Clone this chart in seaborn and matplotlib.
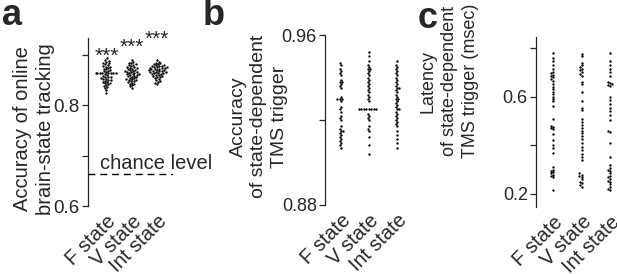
import numpy as np
import pandas as pd
import matplotlib
matplotlib.use("Agg")
import matplotlib.pyplot as plt
import matplotlib.transforms as mtransforms
import seaborn as sns

states = ["F state", "V state", "Int state"]

# panel a: accuracy of online brain-state tracking
track_F = [0.894, 0.891, 0.889, 0.887, 0.885, 0.884, 0.882, 0.880, 0.879, 0.877,
           0.876, 0.875, 0.873, 0.872, 0.870, 0.869, 0.868, 0.866, 0.865, 0.864,
           0.864, 0.864, 0.864, 0.864, 0.864, 0.864, 0.862, 0.860, 0.859, 0.857,
           0.857, 0.856, 0.854, 0.853, 0.852, 0.850, 0.850, 0.849, 0.847, 0.846,
           0.845, 0.844, 0.842, 0.840, 0.838, 0.836, 0.834, 0.830, 0.824]
track_V = [0.891, 0.887, 0.885, 0.884, 0.882, 0.881, 0.880, 0.878, 0.877, 0.876,
           0.875, 0.874, 0.873, 0.872, 0.871, 0.870, 0.869, 0.868, 0.867, 0.866,
           0.866, 0.865, 0.864, 0.863, 0.862, 0.862, 0.861, 0.860, 0.859, 0.858,
           0.857, 0.856, 0.855, 0.854, 0.853, 0.852, 0.851, 0.850, 0.849, 0.848,
           0.846, 0.845, 0.843, 0.842, 0.840, 0.838, 0.835]
track_Int = [0.890, 0.887, 0.885, 0.884, 0.883, 0.882, 0.881, 0.880, 0.879, 0.879,
             0.878, 0.877, 0.876, 0.876, 0.875, 0.874, 0.874, 0.873, 0.872, 0.872,
             0.871, 0.870, 0.870, 0.869, 0.868, 0.868, 0.867, 0.866, 0.866, 0.865,
             0.864, 0.864, 0.863, 0.862, 0.861, 0.860, 0.859, 0.858, 0.857, 0.856,
             0.855, 0.853, 0.851, 0.849, 0.847, 0.845, 0.842]

# panel b: accuracy of state-dependent TMS trigger
trig_F = [0.947, 0.946, 0.944, 0.943, 0.942, 0.941, 0.939, 0.938, 0.938, 0.937,
          0.936, 0.935, 0.931, 0.930, 0.930, 0.930, 0.929, 0.926, 0.925, 0.924,
          0.922, 0.921, 0.920, 0.917, 0.916, 0.915, 0.915, 0.914, 0.913, 0.912,
          0.911, 0.910, 0.909, 0.908, 0.907]
trig_V = [0.952, 0.950, 0.948, 0.946, 0.945, 0.944, 0.944, 0.943, 0.942, 0.941,
          0.940, 0.939, 0.938, 0.937, 0.936, 0.935, 0.934, 0.933, 0.932, 0.931,
          0.930, 0.929, 0.925, 0.925, 0.925, 0.925, 0.925, 0.925, 0.925, 0.925,
          0.923, 0.922, 0.921, 0.920, 0.917, 0.916, 0.915, 0.912, 0.908, 0.904]
trig_Int = [0.948, 0.946, 0.945, 0.944, 0.943, 0.942, 0.941, 0.940, 0.939, 0.938,
            0.937, 0.936, 0.935, 0.935, 0.934, 0.933, 0.932, 0.931, 0.930, 0.930,
            0.929, 0.928, 0.927, 0.926, 0.925, 0.925, 0.924, 0.923, 0.922, 0.921,
            0.920, 0.919, 0.918, 0.917, 0.915, 0.913, 0.911, 0.909, 0.907]

# panel c: latency of state-dependent TMS trigger (msec)
lat_F = [0.778, 0.760, 0.745, 0.730, 0.712, 0.700, 0.695, 0.690, 0.685, 0.680,
         0.672, 0.665, 0.650, 0.640, 0.630, 0.620, 0.610, 0.600, 0.590, 0.580,
         0.560, 0.510, 0.480, 0.475, 0.470, 0.465, 0.445, 0.420, 0.400, 0.390,
         0.370, 0.310, 0.300, 0.295, 0.290, 0.285, 0.280, 0.275, 0.270, 0.217]
lat_V = [0.775, 0.765, 0.740, 0.730, 0.722, 0.715, 0.708, 0.700, 0.692, 0.685,
         0.660, 0.650, 0.620, 0.580, 0.555, 0.545, 0.510, 0.495, 0.485, 0.470,
         0.460, 0.450, 0.440, 0.425, 0.410, 0.395, 0.380, 0.365, 0.350, 0.340,
         0.285, 0.280, 0.275, 0.270, 0.260, 0.250, 0.245, 0.238, 0.230]
lat_Int = [0.778, 0.745, 0.730, 0.715, 0.700, 0.685, 0.660, 0.655, 0.650, 0.648,
           0.645, 0.600, 0.585, 0.570, 0.555, 0.540, 0.525, 0.505, 0.460, 0.455,
           0.410, 0.350, 0.320, 0.305, 0.300, 0.295, 0.285, 0.275, 0.268, 0.262,
           0.255, 0.250, 0.240, 0.230, 0.222, 0.215]

chance = 0.663

sns.set_style("ticks")
plt.rcParams["font.family"] = ["Liberation Sans", "DejaVu Sans"]


def long_frame(groups):
    rows = []
    for name, vals in zip(states, groups):
        rows += [(name, v) for v in vals]
    return pd.DataFrame(rows, columns=["state", "value"])


fig = plt.figure(figsize=(6.17, 2.74), dpi=100)
ax_a = fig.add_axes([0.1426, 0.248, 0.137, 0.613])
ax_b = fig.add_axes([0.527, 0.252, 0.139, 0.620])
ax_c = fig.add_axes([0.869, 0.245, 0.131, 0.620])

# axis, data, ylim, yticks, ytick labels, ylabel, xlim, tick size, label size,
# label position, x label shift (px)
panels = [
    (ax_a, [track_F, track_V, track_Int], (0.6, 0.934), [0.6, 0.7, 0.8, 0.9],
     ["0.6", "", "0.8", ""], "Accuracy of online\nbrain-state tracking",
     (-0.72, 2.6), 13.5, 14.5, (-0.39, 0.46), 6),
    (ax_b, [trig_F, trig_V, trig_Int], (0.88, 0.96), [0.88, 0.92, 0.96],
     ["0.88", "", "0.96"], "Accuracy\nof state-dependent\nTMS trigger",
     (-0.55, 2.5), 13, 14, (-0.43, 0.52), 6),
    (ax_c, [lat_F, lat_V, lat_Int], (0.147, 0.845), [0.2, 0.4, 0.6, 0.8],
     ["0.2", "", "0.6", ""], "Latency\nof state-dependent\nTMS trigger (msec)",
     (-0.6, 2.25), 13, 13, (-0.71, 0.74), 1),
]

for ax, groups, ylim, yt, ytl, ylab, xlim, tfs, lfs, lab_xy, dx in panels:
    df = long_frame(groups)
    sns.swarmplot(data=df, x="state", y="value", ax=ax, color="black", size=1.7,
                  linewidth=0)
    ax.set_ylim(*ylim)
    ax.set_xlim(*xlim)
    ax.set_yticks(yt)
    ax.set_yticklabels(ytl, fontsize=tfs)
    ax.set_xticks(range(3))
    ax.set_xticklabels(states, rotation=45, ha="right", rotation_mode="anchor",
                       fontsize=14.5)
    shift = mtransforms.ScaledTranslation(dx / 100, 0, fig.dpi_scale_trans)
    for lab in ax.get_xticklabels():
        lab.set_transform(lab.get_transform() + shift)
    ax.set_ylabel(ylab, fontsize=lfs, linespacing=1.3)
    ax.yaxis.set_label_coords(*lab_xy)
    ax.set_xlabel("")
    sns.despine(ax=ax, bottom=True)
    ax.tick_params(axis="y", length=4, width=0.9, pad=2)
    ax.tick_params(axis="x", length=0, pad=4)
    ax.spines["left"].set_linewidth(0.9)
    ax.patch.set_alpha(0)

# chance level in panel a
ax_a.axhline(chance, xmin=0, xmax=1, color="black", lw=1.0, ls=(0, (5, 3.5)))
ax_a.text(-0.25, 0.674, "chance level", fontsize=14.5, va="baseline",
          clip_on=False)

# significance stars
for i, y in enumerate([0.898, 0.916, 0.932]):
    ax_a.text(i, y, "***", fontsize=15, ha="center", va="center", clip_on=False)

for letter, x, y in zip("abc", [0.003, 0.329, 0.677], [0.909, 0.909, 0.898]):
    fig.text(x, y, letter, fontsize=26, fontweight="bold", va="baseline")

fig.savefig("out.png", dpi=100)
